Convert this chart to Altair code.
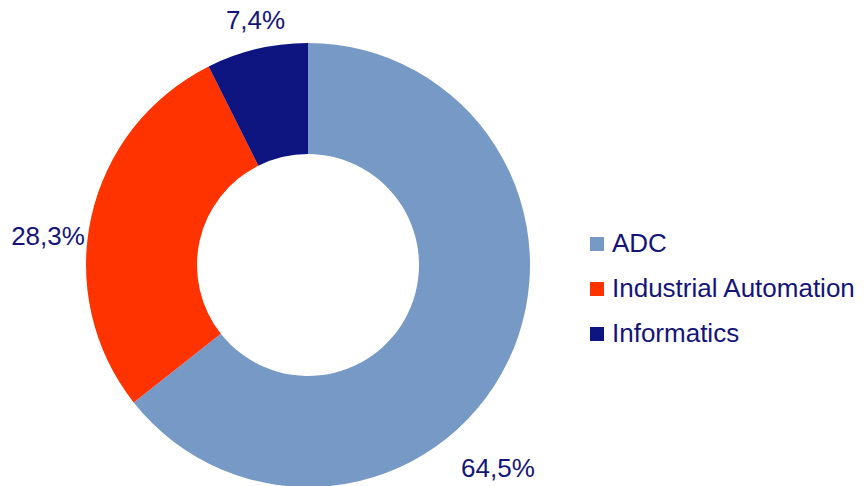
import altair as alt
import pandas as pd

categories = ["ADC", "Industrial Automation", "Informatics"]
shares = [64.5, 28.3, 7.4]
labels = ["64,5%", "28,3%", "7,4%"]
colors = ["#7799C6", "#FF3300", "#0F1580"]

df = pd.DataFrame({"cat": categories, "share": shares, "label": labels,
                   "idx": list(range(len(categories)))})

TEXT = "#141478"
FONT = "Liberation Sans"
FS = 26
CX, CY = 300, 257

base = alt.Chart(df)

arcs = base.mark_arc(outerRadius=222, innerRadius=111).encode(
    theta=alt.Theta("share:Q", stack=True),
    order=alt.Order("idx:Q"),
    color=alt.Color("cat:N", scale=alt.Scale(domain=categories, range=colors),
                    sort=categories,
                    legend=alt.Legend(title=None, orient="none", legendX=576, legendY=223,
                                      symbolType="square", symbolSize=196,
                                      symbolStrokeWidth=0,
                                      labelFontSize=FS, labelFont=FONT,
                                      labelColor=TEXT, labelOffset=2,
                                      rowPadding=19, padding=0, labelLimit=400)),
    x=alt.value(CX), y=alt.value(CY),
)

def label_layer(cat, dx, dy):
    return base.mark_text(radius=250, fontSize=FS, font=FONT, color=TEXT,
                          align="center", baseline="middle", dx=dx, dy=dy).encode(
        theta=alt.Theta("share:Q", stack=True),
        order=alt.Order("idx:Q"),
        text="label:N",
        x=alt.value(CX), y=alt.value(CY),
        detail="cat:N",
        opacity=alt.condition(alt.datum.cat == cat, alt.value(1), alt.value(0)),
    )

layers = [arcs]
offsets = {"ADC": (-35, 95), "Industrial Automation": (-16, 26), "Informatics": (5, -1)}
for c in categories:
    dx, dy = offsets[c]
    layers.append(label_layer(c, dx, dy))

chart = alt.layer(*layers).properties(
    width=849, height=478, padding=0,
    autosize=alt.AutoSizeParams(type="none"),
).configure_view(stroke=None)

chart.save("out.html", embed_options={"renderer": "svg", "actions": False})
